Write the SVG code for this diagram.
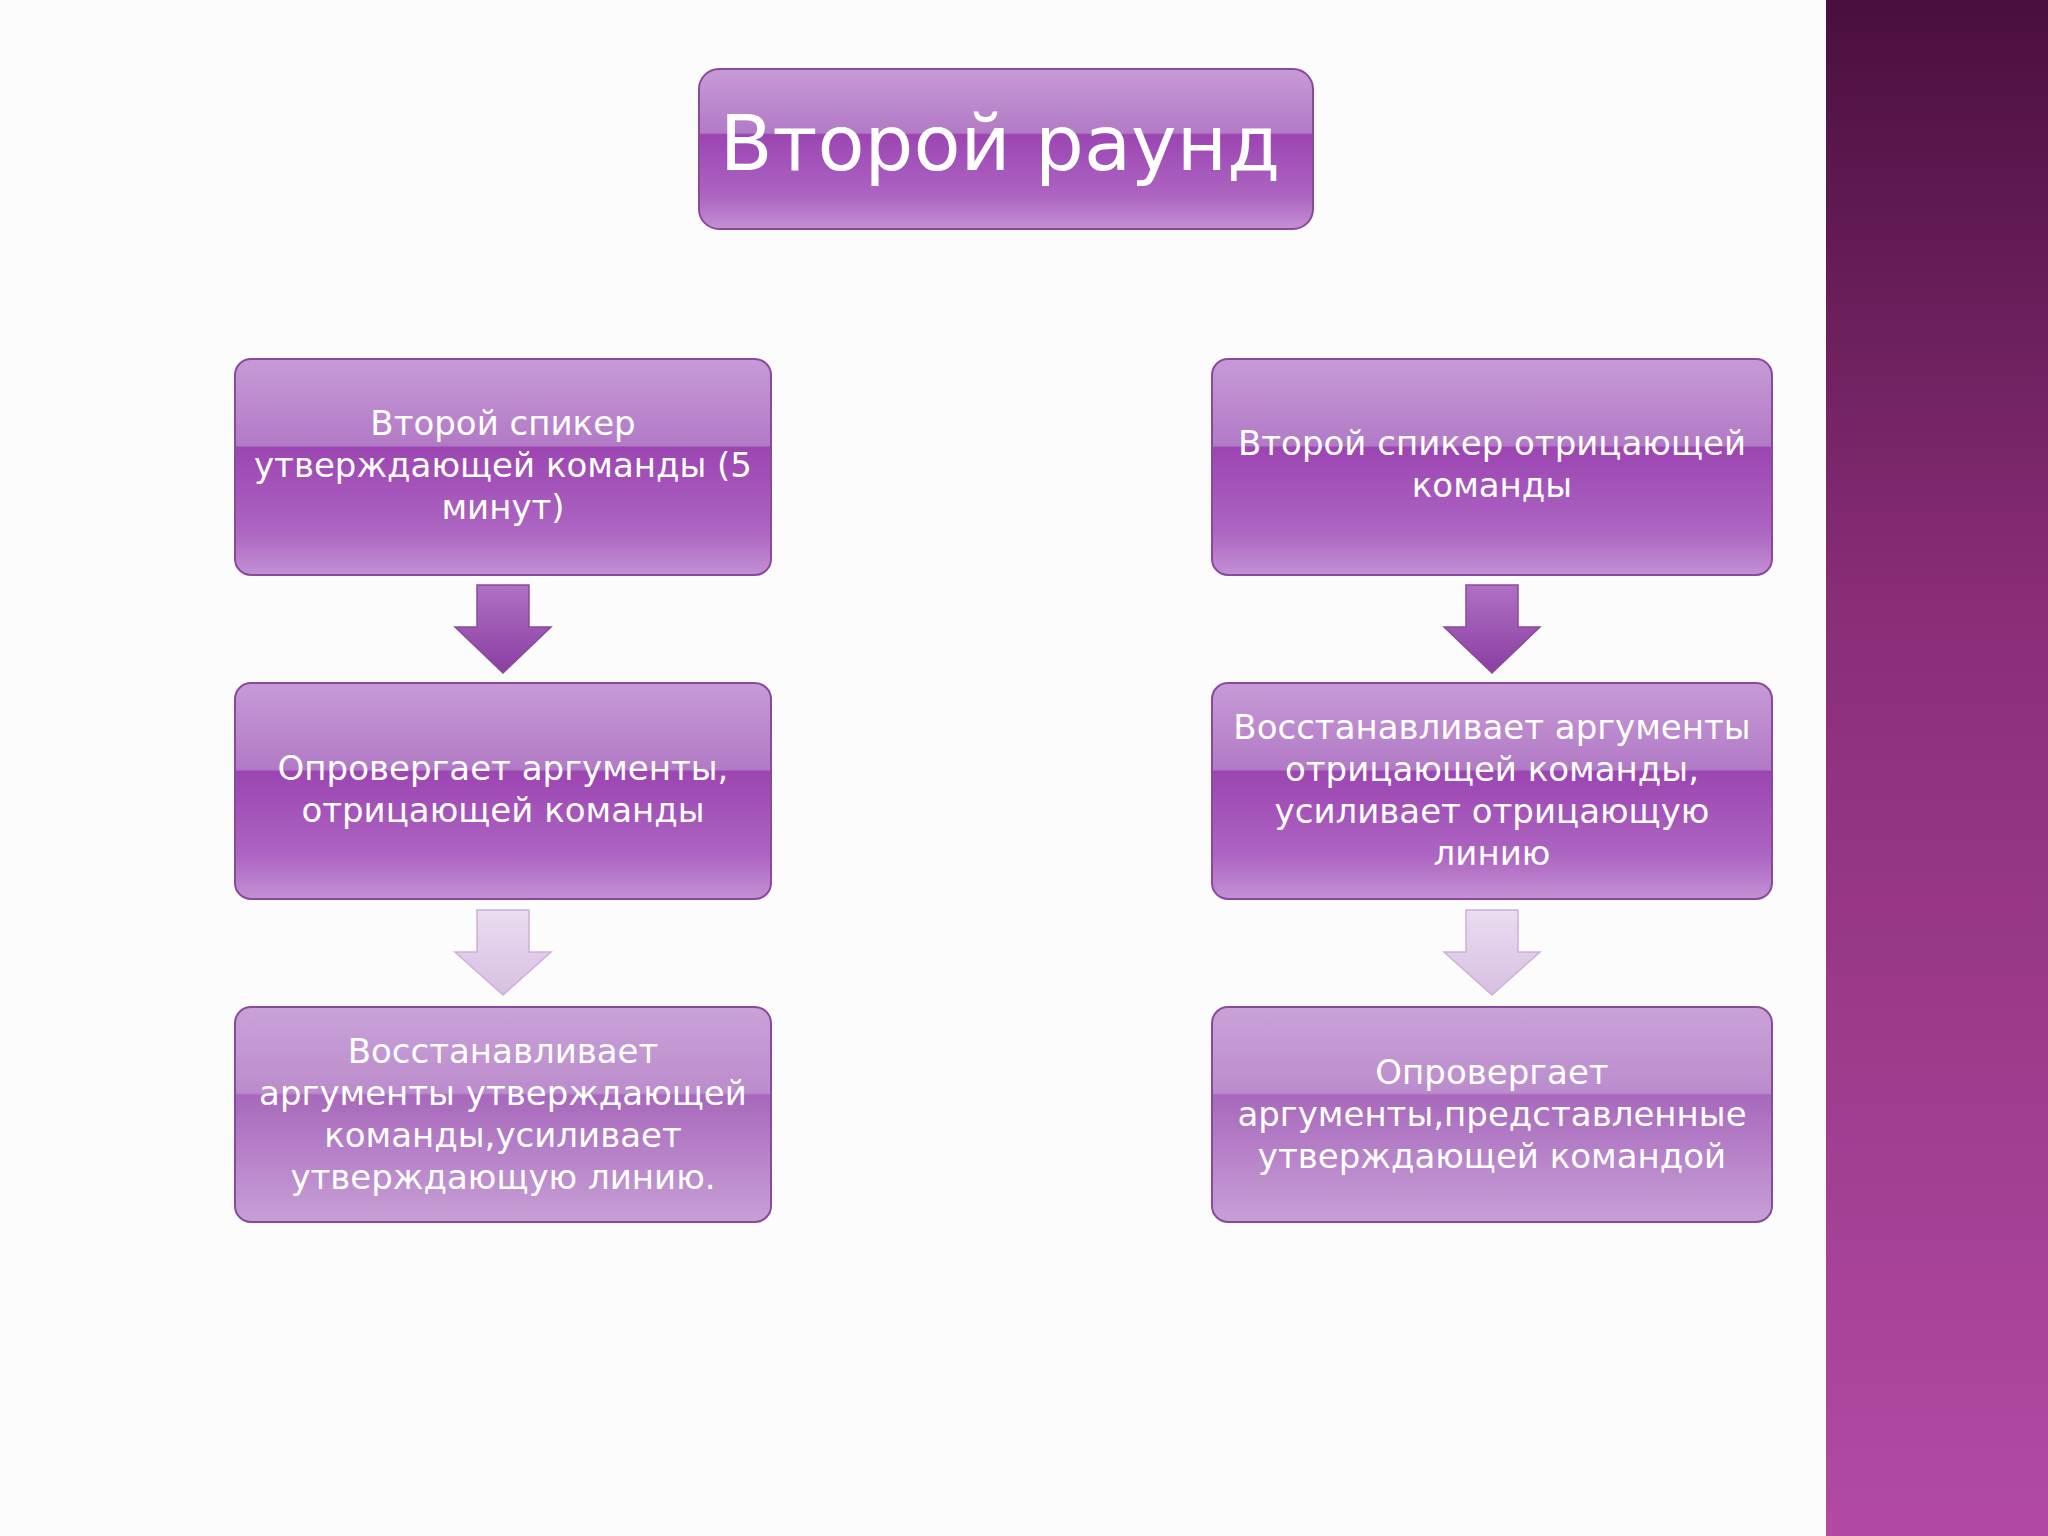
<svg xmlns="http://www.w3.org/2000/svg" width="2048" height="1536" viewBox="0 0 2048 1536">
<defs>
<linearGradient id="bg" x1="0" y1="0" x2="0" y2="1"><stop offset="0" stop-color="#4a0f3e"/><stop offset="0.4" stop-color="#8a2e78"/><stop offset="1" stop-color="#b24aa4"/></linearGradient>
<linearGradient id="box" x1="0" y1="0" x2="0" y2="1"><stop offset="0" stop-color="#c79ad6"/><stop offset="0.4" stop-color="#b27ac6"/><stop offset="0.41" stop-color="#9c45b2"/><stop offset="0.8" stop-color="#ad65c2"/><stop offset="1" stop-color="#c490d4"/></linearGradient>
<linearGradient id="box2" x1="0" y1="0" x2="0" y2="1"><stop offset="0" stop-color="#c9a2d8"/><stop offset="0.4" stop-color="#bb8ccc"/><stop offset="0.41" stop-color="#a868bc"/><stop offset="1" stop-color="#c7a0d6"/></linearGradient>
<linearGradient id="ar" x1="0" y1="0" x2="0" y2="1"><stop offset="0" stop-color="#b070c4"/><stop offset="1" stop-color="#8a3ea2"/></linearGradient>
<linearGradient id="ar2" x1="0" y1="0" x2="0" y2="1"><stop offset="0" stop-color="#eadcf0"/><stop offset="1" stop-color="#d8bfe2"/></linearGradient>
</defs>
<style>
.b{stroke:#8a4a9c;stroke-width:2}
.t{font-family:"DejaVu Sans",sans-serif;font-size:34px;fill:#fff;text-anchor:middle}
</style>
<rect width="2048" height="1536" fill="#fdfcfd"/>
<rect x="1826" y="0" width="222" height="1536" fill="url(#bg)"/>
<g id="title"><rect x="699" y="69" width="614" height="160" rx="20" fill="url(#box)" class="b"/><text x="1000" y="170" class="t" style="font-size:77px">Второй раунд</text></g>
<g id="l1"><rect x="235" y="359" width="536" height="216" rx="16" fill="url(#box)" class="b"/><text class="t" x="503" y="435">Второй спикер</text><text class="t" x="503" y="477">утверждающей команды (5</text><text class="t" x="503" y="519">минут)</text></g>
<g id="l2"><rect x="235" y="683" width="536" height="216" rx="16" fill="url(#box)" class="b"/><text class="t" x="503" y="780">Опровергает аргументы,</text><text class="t" x="503" y="822">отрицающей команды</text></g>
<g id="l3"><rect x="235" y="1007" width="536" height="215" rx="16" fill="url(#box2)" class="b"/><text class="t" x="503" y="1063">Восстанавливает</text><text class="t" x="503" y="1105">аргументы утверждающей</text><text class="t" x="503" y="1147">команды,усиливает</text><text class="t" x="503" y="1189">утверждающую линию.</text></g>
<g id="r1"><rect x="1212" y="359" width="560" height="216" rx="16" fill="url(#box)" class="b"/><text class="t" x="1492" y="455">Второй спикер отрицающей</text><text class="t" x="1492" y="497">команды</text></g>
<g id="r2"><rect x="1212" y="683" width="560" height="216" rx="16" fill="url(#box)" class="b"/><text class="t" x="1492" y="739">Восстанавливает аргументы</text><text class="t" x="1492" y="781">отрицающей команды,</text><text class="t" x="1492" y="823">усиливает отрицающую</text><text class="t" x="1492" y="865">линию</text></g>
<g id="r3"><rect x="1212" y="1007" width="560" height="215" rx="16" fill="url(#box2)" class="b"/><text class="t" x="1492" y="1084">Опровергает</text><text class="t" x="1492" y="1126">аргументы,представленные</text><text class="t" x="1492" y="1168">утверждающей командой</text></g>
<g id="connectors">
<polygon points="477,585 529,585 529,627 551,627 503,673 455,627 477,627" fill="url(#ar)" stroke="#8a4a9c" stroke-width="1.5"/>
<polygon points="477,910 529,910 529,952 551,952 503,995 455,952 477,952" fill="url(#ar2)" stroke="#cdb0d8" stroke-width="1.5"/>
<polygon points="1466,585 1518,585 1518,627 1540,627 1492,673 1444,627 1466,627" fill="url(#ar)" stroke="#8a4a9c" stroke-width="1.5"/>
<polygon points="1466,910 1518,910 1518,952 1540,952 1492,995 1444,952 1466,952" fill="url(#ar2)" stroke="#cdb0d8" stroke-width="1.5"/>
</g>
</svg>
